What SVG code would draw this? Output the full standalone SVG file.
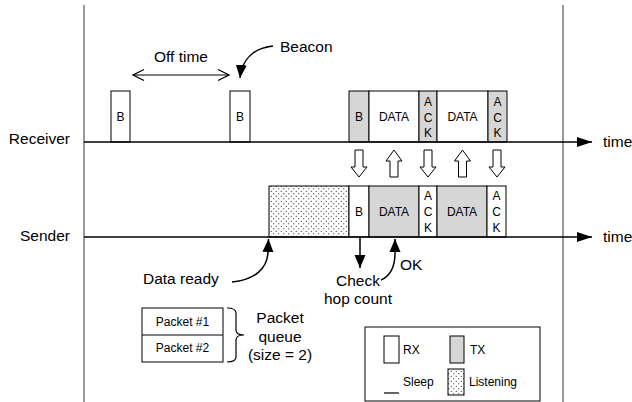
<svg xmlns="http://www.w3.org/2000/svg" width="632" height="402" viewBox="0 0 632 402">
<defs>
<style>
text{font-family:"Liberation Sans",Arial,Helvetica,sans-serif;fill:#000}
.lbl{font-size:15.5px}
.sm{font-size:12px}
.mid{text-anchor:middle}
.end{text-anchor:end}
.box{stroke:#000;stroke-width:1;fill:#fff}
.tx{fill:#d6d6d6}
.ls{fill:url(#dots)}
.ln{stroke:#000;stroke-width:1.5;fill:none}
.thin{stroke:#000;stroke-width:1.2;fill:none}
.frame{stroke:#555;stroke-width:1.2;fill:none}
.blk{stroke:#000;stroke-width:1;fill:#fff}
</style>
<pattern id="dots" width="5" height="5" patternUnits="userSpaceOnUse">
<rect width="5" height="5" fill="#fff"/>
<circle cx="1.25" cy="1.25" r="0.55" fill="#000"/>
<circle cx="3.75" cy="3.75" r="0.55" fill="#000"/>
</pattern>
<marker id="fa" markerUnits="userSpaceOnUse" markerWidth="16" markerHeight="12" refX="15" refY="6" orient="auto">
<path d="M0 1 L15 6 L0 11 Z" fill="#000"/>
</marker>
<marker id="fs" markerUnits="userSpaceOnUse" markerWidth="14" markerHeight="12" refX="13" refY="6" orient="auto">
<path d="M0 0.5 L13 6 L0 11.5 Z" fill="#000"/>
</marker>
<marker id="oa" markerUnits="userSpaceOnUse" markerWidth="14" markerHeight="14" refX="12" refY="7" orient="auto-start-reverse">
<path d="M1 1.5 L12 7 L1 12.5" fill="none" stroke="#000" stroke-width="1.3"/>
</marker>
<path id="dn" d="M-4 0 H4 V17 H8 L0 27 L-8 17 H-4 Z"/>
<path id="up" d="M-4 27 H4 V11 H8 L0 0 L-8 11 H-4 Z"/>
</defs>

<g id="frame">
<line class="frame" x1="84" y1="5" x2="84" y2="402"/>
<line class="frame" x1="563" y1="5" x2="563" y2="402"/>
</g>

<g id="receiver">
<text class="lbl end" x="70" y="144">Receiver</text>
<text class="lbl" x="603" y="147">time</text>
</g>
<g id="sender">
<text class="lbl end" x="70" y="241">Sender</text>
<text class="lbl" x="603" y="242">time</text>
</g>

<g id="rx-b1"><rect class="box" x="111" y="91" width="19" height="51"/><text class="sm mid" x="120.5" y="121">B</text></g>
<g id="rx-b2"><rect class="box" x="230" y="91" width="20" height="51"/><text class="sm mid" x="240" y="121">B</text></g>
<g id="rx-b3"><rect class="box tx" x="349" y="91" width="20" height="51"/><text class="sm mid" x="359" y="121">B</text></g>
<g id="rx-data1"><rect class="box" x="369" y="91" width="50" height="51"/><text class="sm mid" x="394" y="121">DATA</text></g>
<g id="rx-ack1"><rect class="box tx" x="419" y="91" width="18" height="51"/><text class="sm mid" x="428" y="106">A</text><text class="sm mid" x="428" y="121.5">C</text><text class="sm mid" x="428" y="137">K</text></g>
<g id="rx-data2"><rect class="box" x="437" y="91" width="51" height="51"/><text class="sm mid" x="462.5" y="121">DATA</text></g>
<g id="rx-ack2"><rect class="box tx" x="488" y="91" width="19" height="51"/><text class="sm mid" x="497.5" y="106">A</text><text class="sm mid" x="497.5" y="121.5">C</text><text class="sm mid" x="497.5" y="137">K</text></g>

<g id="tx-listen"><rect class="box ls" x="269" y="186" width="80" height="51"/></g>
<g id="tx-b"><rect class="box" x="349" y="186" width="20" height="51"/><text class="sm mid" x="359" y="216">B</text></g>
<g id="tx-data1"><rect class="box tx" x="369" y="186" width="50" height="51"/><text class="sm mid" x="394" y="216">DATA</text></g>
<g id="tx-ack1"><rect class="box" x="419" y="186" width="18" height="51"/><text class="sm mid" x="428" y="199.5">A</text><text class="sm mid" x="428" y="216">C</text><text class="sm mid" x="428" y="232">K</text></g>
<g id="tx-data2"><rect class="box tx" x="437" y="186" width="50" height="51"/><text class="sm mid" x="462" y="216">DATA</text></g>
<g id="tx-ack2"><rect class="box" x="487" y="186" width="19" height="51"/><text class="sm mid" x="496.5" y="199.5">A</text><text class="sm mid" x="496.5" y="216">C</text><text class="sm mid" x="496.5" y="232">K</text></g>

<g id="labels">
<text class="lbl mid" x="181" y="62">Off time</text>
<text class="lbl" x="280" y="52">Beacon</text>
<text class="lbl" x="143" y="284">Data ready</text>
<text class="lbl mid" x="358" y="286">Check</text>
<text class="lbl mid" x="358" y="304">hop count</text>
<text class="lbl" x="400" y="270">OK</text>
</g>

<g id="queue">
<rect class="box" x="142" y="308" width="81" height="54"/>
<line class="thin" x1="142" y1="335" x2="223" y2="335" stroke-width="1"/>
<text class="sm mid" x="182.5" y="326">Packet #1</text>
<text class="sm mid" x="182.5" y="352">Packet #2</text>
<path class="thin" d="M227 308 Q236 308 236 313 L236 330 Q236 335 244 335 Q236 335 236 340 L236 357 Q236 362 227 362"/>
<text class="lbl mid" x="280" y="323">Packet</text>
<text class="lbl mid" x="280" y="342">queue</text>
<text class="lbl mid" x="280" y="360">(size = 2)</text>
</g>

<g id="legend">
<rect class="box" x="365" y="327" width="175" height="74"/>
<rect class="box" x="384" y="336" width="15" height="27"/>
<text class="sm" x="403" y="354">RX</text>
<rect class="box tx" x="450" y="336" width="14" height="27"/>
<text class="sm" x="470" y="354">TX</text>
<line class="thin" x1="384" y1="393" x2="399" y2="393"/>
<text class="sm" x="403" y="386">Sleep</text>
<rect class="box ls" x="448" y="369" width="16" height="26"/>
<text class="sm" x="469" y="386">Listening</text>
</g>

<g id="connectors">
<line class="ln" x1="84" y1="142" x2="592" y2="142" marker-end="url(#fa)"/>
<line class="ln" x1="84" y1="237" x2="592" y2="237" marker-end="url(#fa)"/>
<line class="thin" x1="133" y1="75" x2="229" y2="75" marker-start="url(#oa)" marker-end="url(#oa)"/>
<path class="ln" d="M273 46 C255 48 242 58 240 78" marker-end="url(#fs)"/>
<path class="ln" d="M232 282 C255 280 268 268 268 251 L268.5 239" marker-end="url(#fs)"/>
<line class="ln" x1="360" y1="237" x2="360" y2="268" marker-end="url(#fs)"/>
<path class="ln" d="M381 280 C390 276 395 266 395 253 L395 239" marker-end="url(#fs)"/>
<use href="#dn" class="blk" x="359" y="150"/>
<use href="#up" class="blk" x="394" y="150"/>
<use href="#dn" class="blk" x="428" y="150"/>
<use href="#up" class="blk" x="462.5" y="150"/>
<use href="#dn" class="blk" x="497" y="150"/>
</g>
</svg>
